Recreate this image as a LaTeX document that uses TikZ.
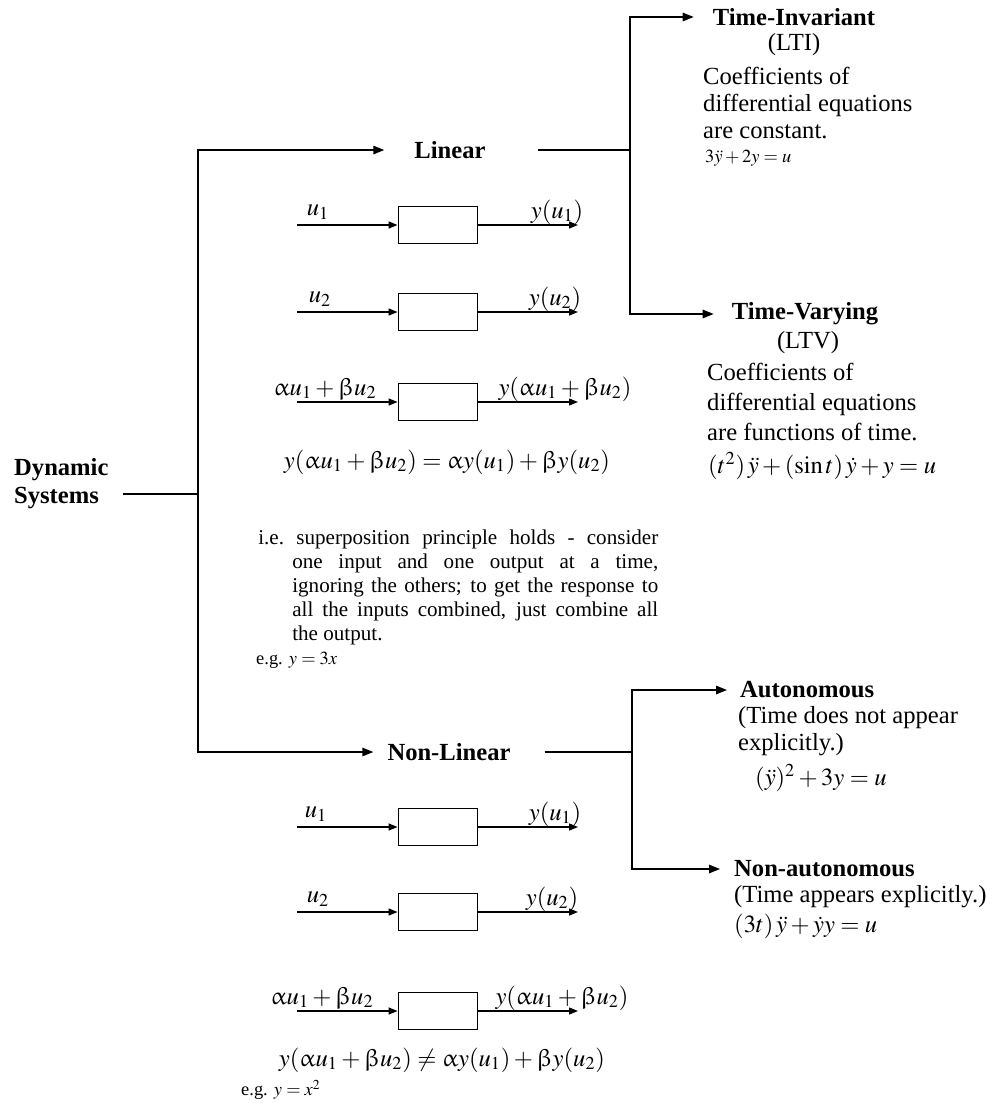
\documentclass[tikz,border=0pt]{standalone}
\usepackage{mathptmx}
\usepackage{upgreek}
\usepackage[no-math]{fontspec}
\setmainfont{Liberation Serif}
\usepackage{tikz}
\usetikzlibrary{arrows.meta}

\begin{document}
\begin{tikzpicture}[
  x=0.02cm, y=-0.02cm,
  head/.style={font=\fontsize{14}{16}\selectfont\bfseries, align=left},
  txt/.style={font=\fontsize{14}{15.6}\selectfont, align=left, inner ysep=1pt},
  eqn/.style={font=\fontsize{14}{16}\selectfont, inner ysep=1pt},
  note/.style={font=\fontsize{10.5}{12}\selectfont, inner ysep=1pt},
  para/.style={text width=8cm, align=justify, inner sep=0.16cm, font=\fontsize{12}{13.6}\selectfont},
  blk/.style={rectangle, draw, line width=1.1pt, minimum width=1.58cm, minimum height=0.74cm, inner sep=0pt},
  wire/.style={line width=0.8pt},
  arrow/.style={wire, -{Triangle[length=2.2mm,width=1.7mm]}},
  sarrow/.style={wire, -{Triangle[length=1.8mm,width=1.4mm]}}
]
  \useasboundingbox (0,0) rectangle (1001,1103);

  % root and the two main branches
  \node[head, anchor=west] (dyn) at (8,484) {Dynamic\\Systems};
  \coordinate (split) at (198,494);
  \draw[wire, shorten <=1.6mm] (dyn.east |- split) -- (split);

  \node[head] (lin) at (450,150) {Linear};
  \node[head] (nlin) at (449,752) {Non-Linear};
  \draw[arrow, shorten >=4.8mm] (split) |- (lin);
  \draw[arrow, shorten >=1.6mm] (split) |- (nlin);

  % linear: time-invariant / time-varying
  \coordinate (linsplit) at (630,150);
  \draw[wire, shorten <=9.2mm] (lin) -- (linsplit);

  \node[head] (ti) at (794,17) {Time-Invariant};
  \node[txt] (lti) at (794,45) {(LTI)};
  \node[txt, anchor=west] (tidesc) at (697,103) {Coefficients of\\differential equations\\are constant.};
  \node[note, anchor=west] (tieq) at (699,158) {$3\ddot{y}+2y=u$};
  \draw[arrow, shorten >=2.6mm] (linsplit) |- (ti);

  \node[head] (tv) at (805,314) {Time-Varying};
  \node[txt] (ltv) at (808,343) {(LTV)};
  \node[txt, anchor=west, font=\fontsize{14}{17}\selectfont] (tvdesc) at (701,402) {Coefficients of\\differential equations\\are functions of time.};
  \node[eqn, anchor=west] (tveq) at (702,466) {$(t^2)\,\ddot{y}+(\sin t)\,\dot{y}+y=u$};
  \draw[arrow, shorten >=2.4mm] (linsplit) |- (tv);

  % non-linear: autonomous / non-autonomous
  \coordinate (nlsplit) at (632,752);
  \draw[wire, shorten <=5.6mm] (nlin) -- (nlsplit);

  \node[head, anchor=west] (aut) at (734,690) {Autonomous};
  \node[txt, anchor=west] (autdesc) at (732,731) {(Time does not appear\\explicitly.)};
  \node[eqn, anchor=west] (auteq) at (749,778) {$(\ddot{y})^2+3y=u$};
  \draw[arrow, shorten >=1.4mm] (nlsplit) |- (aut);

  \node[head, anchor=west] (naut) at (728,869) {Non-autonomous};
  \node[txt, anchor=west] (nautdesc) at (728,897) {(Time appears explicitly.)};
  \node[eqn, anchor=west] (nauteq) at (728,926) {$(3t)\,\ddot{y}+\dot{y}y=u$};
  \draw[arrow, shorten >=1.6mm] (nlsplit) |- (naut);

  % block diagrams
  \foreach \n/\y/\inx/\outx/\inl/\outl in {
    a/225/318/557/{u_1}/{y(u_1)},
    b/312/320/555/{u_2}/{y(u_2)},
    c/402/325/565/{\upalpha u_1+\upbeta u_2}/{y(\upalpha u_1+\upbeta u_2)},
    d/827/316/555/{u_1}/{y(u_1)},
    e/912/318/552/{u_2}/{y(u_2)},
    f/1011/322/562/{\upalpha u_1+\upbeta u_2}/{y(\upalpha u_1+\upbeta u_2)}}{
    \node[blk] (box\n) at (438,\y) {};
    \coordinate (in\n) at (297,\y);
    \coordinate (out\n) at (578,\y);
    \draw[sarrow] (in\n) -- (box\n);
    \draw[sarrow] (box\n) -- (out\n);
    \node[eqn] (inl\n) at (\inx,\y-13) {$\inl$};
    \node[eqn] (outl\n) at (\outx,\y-13) {$\outl$};
  }

  \node[eqn] (lineq) at (447,462) {$y(\upalpha u_1+\upbeta u_2)=\upalpha y(u_1)+\upbeta y(u_2)$};
  \node[para, anchor=north west] (supp) at (250,522) {%
    i.e.\ superposition principle holds - consider\linebreak
    \hspace*{0.68cm}one input and one output at a time,\linebreak
    \hspace*{0.68cm}ignoring the others; to get the response to\linebreak
    \hspace*{0.68cm}all the inputs combined, just combine all\linebreak
    \hspace*{0.68cm}the output.};
  \node[note, anchor=west] (eg1) at (250,660) {e.g. $y=3x$};

  \node[eqn] (nleq) at (442,1060) {$y(\upalpha u_1+\upbeta u_2)\neq\upalpha y(u_1)+\upbeta y(u_2)$};
  \node[note, anchor=west] (eg2) at (235,1090) {e.g. $y=x^2$};
\end{tikzpicture}
\end{document}
